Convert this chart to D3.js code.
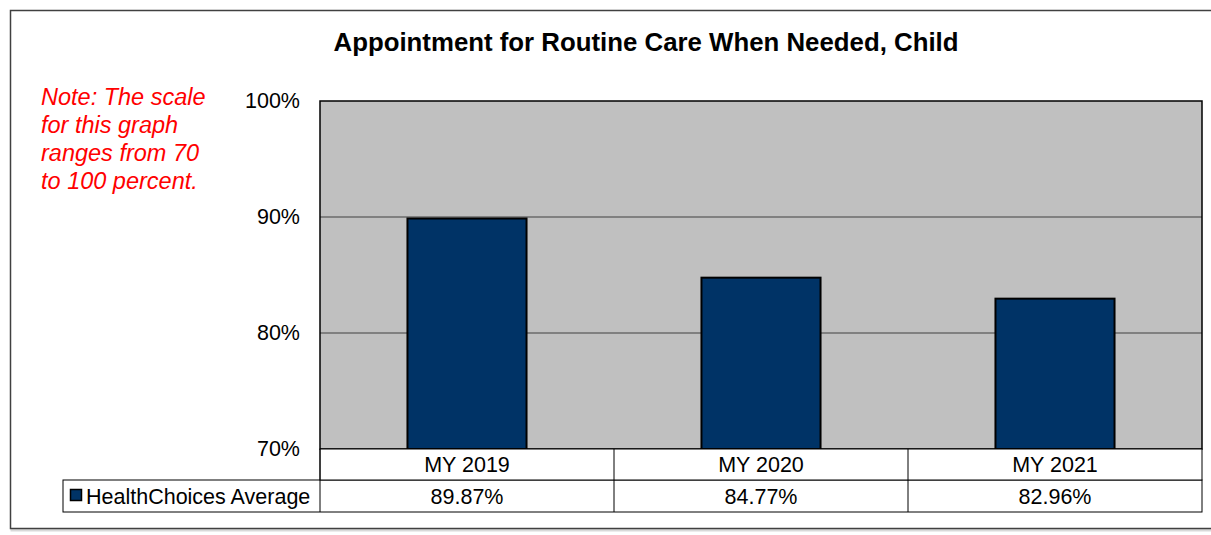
<!DOCTYPE html>
<html>
<head>
<meta charset="utf-8">
<script src="https://cdn.jsdelivr.net/npm/d3@7"></script>
<style>
  body { margin: 0; background: #fff; }
  svg text { font-family: Arial, "Liberation Sans", sans-serif; }
</style>
</head>
<body>
<svg id="chart"></svg>
<script>
// Chart data
const categories = ["MY 2019", "MY 2020", "MY 2021"];
const values = [89.87, 84.77, 82.96];
const seriesName = "HealthChoices Average";
const yTicks = [70, 80, 90, 100];
const noteLines = ["Note: The scale", "for this graph", "ranges from 70", "to 100 percent."];

const width = 1211, height = 535;
const svg = d3.select("#chart")
    .attr("width", width)
    .attr("height", height);

// outer frame (runs off the right edge)
svg.append("rect")
    .attr("x", 12).attr("y", 12)
    .attr("width", width + 20).attr("height", 518)
    .attr("fill", "none").attr("stroke", "#d9d9d9").attr("stroke-width", 3);
svg.append("rect")
    .attr("x", 10.5).attr("y", 10.5)
    .attr("width", width + 20).attr("height", 518)
    .attr("fill", "#fff").attr("stroke", "#404040").attr("stroke-width", 1.5);

// plot area
const plot = { left: 320, right: 1202, top: 101, bottom: 449 };

const x = d3.scaleBand()
    .domain(categories)
    .range([plot.left, plot.right])
    .paddingInner(0)
    .paddingOuter(0);

const y = d3.scaleLinear()
    .domain([70, 100])
    .range([plot.bottom, plot.top]);

svg.append("rect")
    .attr("x", plot.left).attr("y", plot.top)
    .attr("width", plot.right - plot.left).attr("height", plot.bottom - plot.top)
    .attr("fill", "#c0c0c0");

// gridlines
svg.append("g")
    .selectAll("line")
    .data(yTicks.filter(t => t > 70 && t < 100))
    .enter().append("line")
    .attr("x1", plot.left).attr("x2", plot.right)
    .attr("y1", d => y(d)).attr("y2", d => y(d))
    .attr("stroke", "#808080").attr("stroke-width", 2);

// bars
const barW = x.bandwidth() * 0.405;
svg.append("g")
    .selectAll("rect")
    .data(values)
    .enter().append("rect")
    .attr("x", (d, i) => x(categories[i]) + (x.bandwidth() - barW) / 2)
    .attr("y", d => y(d))
    .attr("width", barW)
    .attr("height", d => y(70) - y(d))
    .attr("fill", "#003366")
    .attr("stroke", "#000").attr("stroke-width", 2);

// plot border
svg.append("rect")
    .attr("x", plot.left).attr("y", plot.top)
    .attr("width", plot.right - plot.left).attr("height", plot.bottom - plot.top)
    .attr("fill", "none").attr("stroke", "#000").attr("stroke-width", 1.5);

// y axis labels
const yAxis = d3.axisLeft(y)
    .tickValues(yTicks)
    .tickFormat(d => d + "%")
    .tickSize(0)
    .tickPadding(20);
const yg = svg.append("g")
    .attr("transform", `translate(${plot.left},0)`)
    .call(yAxis);
yg.select(".domain").remove();
yg.selectAll("text")
    .attr("font-size", 21.5)
    .attr("fill", "#000")
    .attr("font-family", "Arial, 'Liberation Sans', sans-serif");

// data table
const row1 = { top: 449, bottom: 480 };
const row2 = { top: 480, bottom: 512 };
const legendLeft = 63;
const tbl = svg.append("g");

tbl.append("rect")
    .attr("x", legendLeft).attr("y", row2.top)
    .attr("width", plot.right - legendLeft).attr("height", row2.bottom - row2.top)
    .attr("fill", "#fff").attr("stroke", "#000").attr("stroke-width", 1);
tbl.append("rect")
    .attr("x", plot.left).attr("y", row1.top)
    .attr("width", plot.right - plot.left).attr("height", row1.bottom - row1.top)
    .attr("fill", "#fff").attr("stroke", "#000").attr("stroke-width", 1);

tbl.selectAll("line.col")
    .data(categories)
    .enter().append("line")
    .attr("class", "col")
    .attr("x1", d => x(d)).attr("x2", d => x(d))
    .attr("y1", row1.top).attr("y2", row2.bottom)
    .attr("stroke", "#000").attr("stroke-width", 1);

tbl.selectAll("text.cat")
    .data(categories)
    .enter().append("text")
    .attr("class", "cat")
    .attr("x", d => x(d) + x.bandwidth() / 2)
    .attr("y", 472)
    .attr("text-anchor", "middle")
    .attr("font-size", 21.5)
    .text(d => d);

tbl.selectAll("text.val")
    .data(values)
    .enter().append("text")
    .attr("class", "val")
    .attr("x", (d, i) => x(categories[i]) + x.bandwidth() / 2)
    .attr("y", 504)
    .attr("text-anchor", "middle")
    .attr("font-size", 21.5)
    .text(d => d.toFixed(2) + "%");

// legend key
tbl.append("rect")
    .attr("x", 70.5).attr("y", 489.5)
    .attr("width", 11).attr("height", 11)
    .attr("fill", "#003366").attr("stroke", "#000").attr("stroke-width", 1.5);
tbl.append("text")
    .attr("x", 86).attr("y", 504)
    .attr("font-size", 21.5)
    .text(seriesName);

// title
svg.append("text")
    .attr("x", 646).attr("y", 51)
    .attr("text-anchor", "middle")
    .attr("font-size", 26)
    .attr("font-weight", "bold")
    .attr("textLength", 625)
    .attr("lengthAdjust", "spacingAndGlyphs")
    .text("Appointment for Routine Care When Needed, Child");

// red note
svg.append("text")
    .attr("fill", "#ff0000")
    .attr("font-size", 23.5)
    .attr("font-style", "italic")
    .selectAll("tspan")
    .data(noteLines)
    .enter().append("tspan")
    .attr("x", 41)
    .attr("y", (d, i) => 105 + i * 28)
    .text(d => d);
</script>
</body>
</html>
